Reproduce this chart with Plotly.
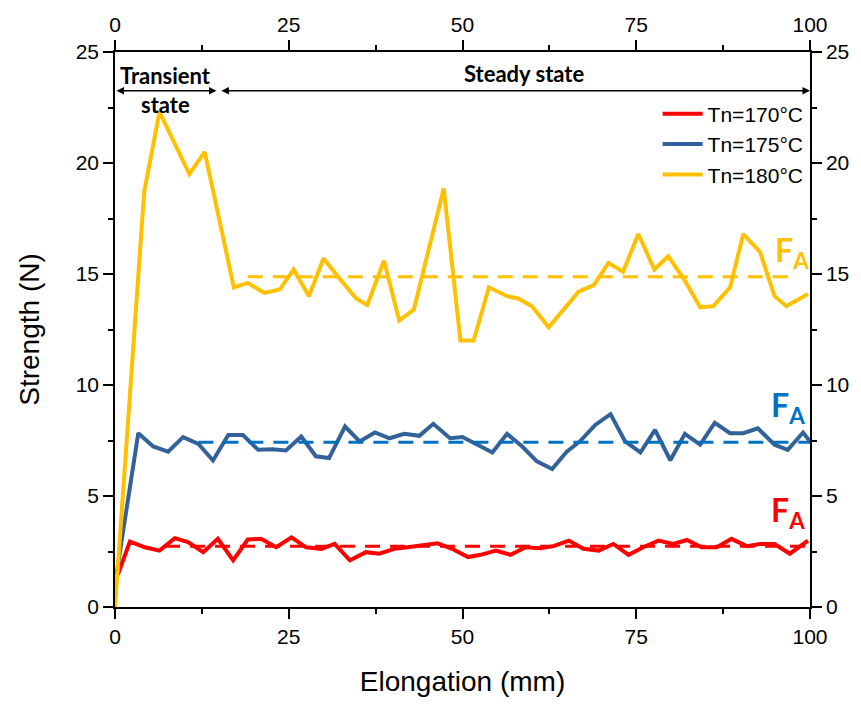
import plotly.graph_objects as go

# ---------------- data ----------------
x_180 = [0, 4.2, 6.4, 10.7, 12.9, 17.1, 19.1, 21.5, 23.7, 25.7, 27.9, 30.0, 32.3, 34.7, 36.3,
         38.7, 40.9, 43.0, 47.3, 49.7, 51.6, 53.8, 56.4, 58.0, 60.0, 62.4, 66.7, 68.9, 71.0, 73.1,
         75.3, 77.6, 79.6, 82.0, 84.2, 86.1, 88.5, 90.4, 92.8, 94.9, 96.6, 99.7]
y_180 = [0, 18.7, 22.3, 19.5, 20.5, 14.4, 14.6, 14.15, 14.3, 15.2, 14.0, 15.7, 14.8, 13.9, 13.6,
         15.6, 12.9, 13.4, 18.85, 12.0, 12.0, 14.4, 14.0, 13.9, 13.55, 12.6, 14.2, 14.5, 15.5, 15.1,
         16.8, 15.2, 15.8, 14.7, 13.5, 13.55, 14.4, 16.8, 16.0, 14.0, 13.55, 14.1]

x_175 = [0.2, 3.35, 5.5, 7.65, 9.8, 12.0, 14.1, 16.3, 18.4, 20.6, 22.7, 24.6, 26.8, 28.9, 30.8,
         33.1, 35.2, 37.4, 39.5, 41.6, 43.8, 45.8, 48.2, 50.0, 54.3, 56.4, 58.6, 60.7, 62.9, 65.0,
         66.9, 69.1, 71.3, 73.4, 75.6, 77.7, 79.9, 82.0, 84.2, 86.3, 88.5, 90.4, 92.5, 94.9, 96.8,
         99.0, 100]
y_175 = [1.45, 7.83, 7.23, 7.0, 7.65, 7.35, 6.6, 7.75, 7.75, 7.08, 7.11, 7.05, 7.68, 6.79, 6.71,
         8.13, 7.46, 7.86, 7.6, 7.8, 7.71, 8.25, 7.6, 7.66, 6.96, 7.8, 7.23, 6.56, 6.22, 7.0,
         7.46, 8.2, 8.69, 7.46, 6.96, 7.98, 6.61, 7.8, 7.31, 8.3, 7.83, 7.83, 8.05, 7.31, 7.08,
         7.86, 7.46]

x_170 = [0.4, 2.15, 4.3, 6.4, 8.6, 10.5, 12.7, 14.8, 17.0, 19.1, 21.0, 23.2, 25.4, 27.5, 29.7,
         31.6, 33.8, 36.1, 38.0, 40.2, 42.1, 44.2, 46.4, 48.5, 50.8, 52.6, 54.8, 56.9, 59.1, 61.2,
         63.1, 65.3, 67.4, 69.6, 71.7, 73.9, 76.0, 78.2, 80.3, 82.3, 84.4, 86.6, 88.7, 90.9, 92.8,
         94.9, 97.1, 99.7]
y_170 = [1.45, 2.95, 2.69, 2.54, 3.1, 2.92, 2.47, 3.07, 2.1, 3.04, 3.07, 2.69, 3.14, 2.69, 2.62,
         2.84, 2.1, 2.47, 2.4, 2.62, 2.69, 2.77, 2.87, 2.62, 2.25, 2.35, 2.54, 2.35, 2.69, 2.65,
         2.74, 2.99, 2.62, 2.54, 2.84, 2.35, 2.69, 2.99, 2.84, 3.02, 2.69, 2.69, 3.07, 2.74, 2.84,
         2.84, 2.4, 2.99]

series_names = ["Tn=170°C", "Tn=175°C", "Tn=180°C"]
fa_mean = [2.74, 7.42, 14.88]          # average steady-state force per series
fa_start = [7.2, 12.0, 19.1]
fa_end = [100, 100, 97.3]

x_ticks = [0, 25, 50, 75, 100]
y_ticks = [0, 5, 10, 15, 20, 25]

# ---------------- style ----------------
line_colors = ["#FF0000", "#33629A", "#FFC000"]
dash_colors = ["#FF0000", "#0070C0", "#FFC000"]
label_colors = ["#FF0000", "#0070C0", "#FFC000"]
fa_label_pos = [(96.8, 4.3), (96.8, 9.0), (97.4, 16.0)]

FONT = "Liberation Sans, Arial, sans-serif"
BOLD = "Lato, Open Sans, sans-serif"

fig = go.Figure()
xs = [x_170, x_175, x_180]
ys = [y_170, y_175, y_180]
for i in range(3):
    fig.add_trace(go.Scatter(x=xs[i], y=ys[i], mode="lines", name=series_names[i],
                             line=dict(color=line_colors[i], width=4)))
for i in range(3):
    fig.add_trace(go.Scatter(x=[fa_start[i], fa_end[i]], y=[fa_mean[i], fa_mean[i]], mode="lines",
                             showlegend=False, hoverinfo="skip",
                             line=dict(color=dash_colors[i], width=3, dash="15px,10px")))
# invisible trace to activate top / right axes
fig.add_trace(go.Scatter(x=[0, 100], y=[0, 25], xaxis="x2", yaxis="y2", mode="markers",
                         marker=dict(opacity=0), showlegend=False, hoverinfo="skip"))

axis_common = dict(showgrid=False, zeroline=False, showline=True, linecolor="black", linewidth=1.5,
                   ticks="outside", ticklen=10, tickwidth=1.5, tickcolor="black",
                   tickfont=dict(family=FONT, size=21, color="black"))
minor_x = dict(dtick=12.5, ticks="outside", ticklen=5, tickwidth=1.5, tickcolor="black")
minor_y = dict(dtick=2.5, ticks="outside", ticklen=5, tickwidth=1.5, tickcolor="black")

fig.update_layout(
    width=861, height=704,
    margin=dict(l=115, r=49, t=52, b=92),
    plot_bgcolor="white", paper_bgcolor="white",
    xaxis=dict(range=[0, 100], tickvals=x_ticks, anchor="y", minor=minor_x,
               title=dict(text="Elongation (mm)", font=dict(family=FONT, size=28, color="black"),
                          standoff=24),
               **axis_common),
    xaxis2=dict(range=[0, 100], tickvals=x_ticks, overlaying="x", side="top", anchor="y",
                minor=minor_x, **axis_common),
    yaxis=dict(range=[0, 25], tickvals=y_ticks, anchor="x", minor=minor_y,
               title=dict(text="Strength (N)", font=dict(family=FONT, size=28, color="black"),
                          standoff=28),
               **axis_common),
    yaxis2=dict(range=[0, 25], tickvals=y_ticks, overlaying="y", side="right", anchor="x",
                minor=minor_y, **axis_common),
    legend=dict(x=0.998, xanchor="right", y=0.925, yanchor="top",
                bgcolor="rgba(0,0,0,0)", font=dict(family=FONT, size=21, color="black"),
                tracegroupgap=0, itemwidth=40),
    showlegend=True,
)

# state arrows
arrow_y = 23.26
for (x0, x1) in [(0, 14.6), (15.1, 100)]:
    fig.add_annotation(x=x1, y=arrow_y, ax=x0, ay=arrow_y, xref="x", yref="y", axref="x", ayref="y",
                       text="", showarrow=True, arrowhead=2, startarrowhead=2, arrowside="end+start",
                       arrowsize=1, startarrowsize=1, arrowwidth=1.5, arrowcolor="black", standoff=0,
                       startstandoff=0)

fig.add_annotation(x=7.2, y=23.95, xref="x", yref="y", text="<b>Transient</b>", showarrow=False,
                   font=dict(family=BOLD, size=22, color="black"))
fig.add_annotation(x=7.2, y=22.65, xref="x", yref="y", text="<b>state</b>", showarrow=False,
                   font=dict(family=BOLD, size=22, color="black"))
fig.add_annotation(x=58.8, y=24.05, xref="x", yref="y", text="<b>Steady state</b>", showarrow=False,
                   font=dict(family=BOLD, size=22, color="black"))

for i in range(3):
    fig.add_annotation(x=fa_label_pos[i][0], y=fa_label_pos[i][1], xref="x", yref="y",
                       text="<b>F<sub>A</sub></b>", showarrow=False,
                       font=dict(family=BOLD, size=32, color=label_colors[i]))

fig.write_html("out.html", config={"displayModeBar": False},
               post_script="document.body.style.margin='0';"
                           "document.body.style.overflow='hidden';"
                           "document.documentElement.style.overflow='hidden';")
